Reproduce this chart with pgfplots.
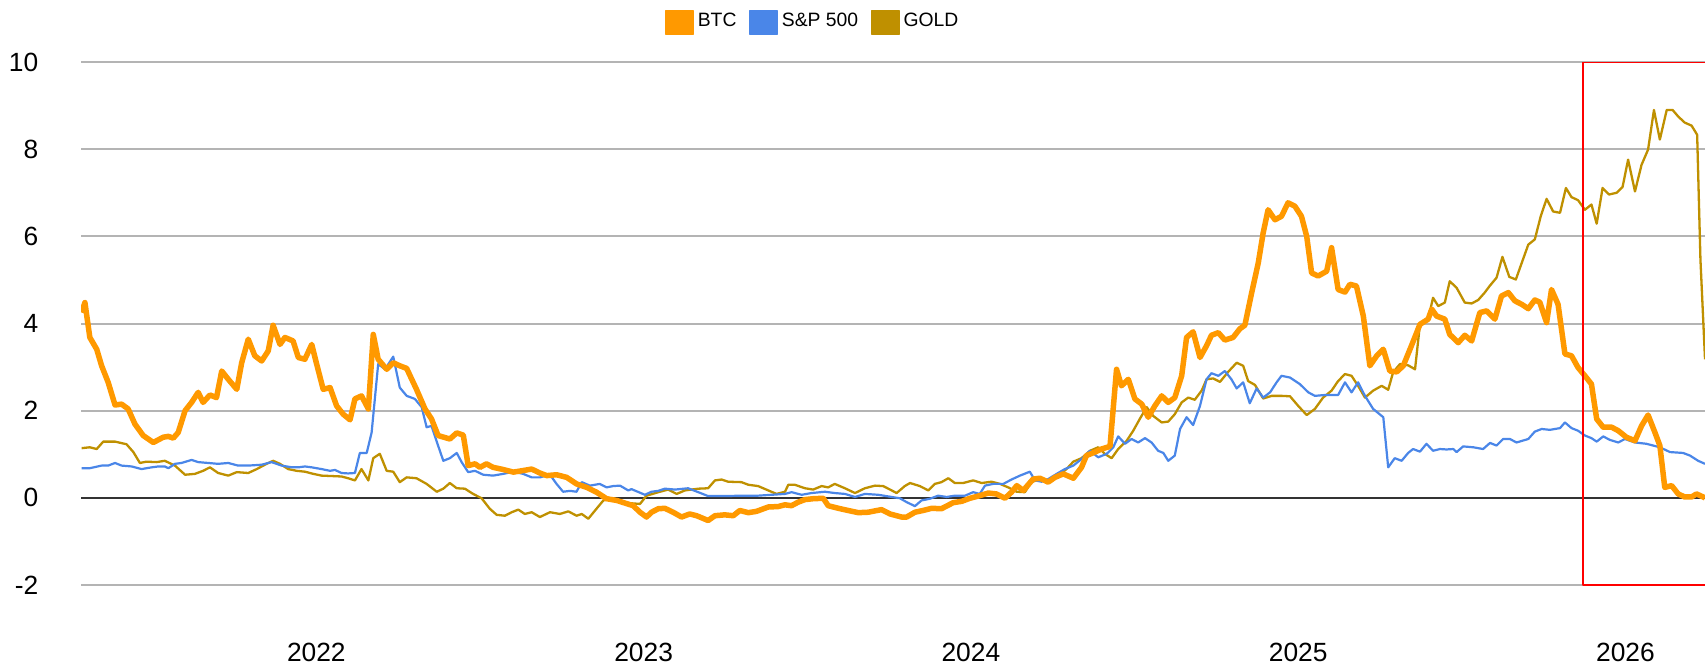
\documentclass[border=0pt]{standalone}
\usepackage{pgfplots}
\pgfplotsset{compat=1.18}
\usepackage{fontspec}
\setmainfont{Liberation Sans}
\definecolor{btc}{HTML}{FF9900}
\definecolor{spx}{HTML}{4A86E8}
\definecolor{gold}{HTML}{BF9000}
\definecolor{gridc}{HTML}{B4B4B4}
\begin{document}
\begin{tikzpicture}
\path[use as bounding box] (0,0) rectangle (170.5mm,66.3mm);
\begin{axis}[
  at={(8.1mm,7.8mm)}, anchor=south west,
  scale only axis, width=162.4mm, height=52.3mm,
  xmin=2021.281, xmax=2026.243, ymin=-2, ymax=10,
  axis line style={draw=none},
  major tick length=0pt,
  xtick={2022,2023,2024,2025,2026},
  xticklabels={2022,2023,2024,2025,2026},
  ytick={-2,0,2,4,6,8,10},
  yticklabels={-2,0,2,4,6,8,10},
  ymajorgrids,
  grid style={gridc, line width=0.2mm},
  tick label style={font=\fontsize{7.5}{9}\selectfont},
  xticklabel style={anchor=center, yshift=-6.7mm},
  yticklabel style={anchor=east, inner sep=0pt, xshift=-4.2mm},
  legend style={at={(0.4513,1.075)}, anchor=center, draw=none, fill=none,
    legend columns=3, font=\fontsize{5.5}{6.6}\selectfont,
    /tikz/every even column/.append style={column sep=0.9mm},
    nodes={inner sep=0.4mm}},
  legend image code/.code={\fill[#1] (0mm,-1.2mm) rectangle (2.7mm,1.2mm);},
  line join=round,
]
\addlegendimage{btc}
\addlegendentry{BTC}
\addlegendimage{spx}
\addlegendentry{S\&P 500}
\addlegendimage{gold}
\addlegendentry{GOLD}

\draw[color=black!80, line width=0.2mm] (2021.281,0) -- (2026.243,0);

\addplot[gold, line width=0.23mm, no markers, forget plot] coordinates {
(2021.283,1.14)(2021.308,1.16)(2021.329,1.12)(2021.349,1.29)(2021.385,1.29)(2021.420,1.23)(2021.441,1.05)(2021.461,0.80)(2021.481,0.83)(2021.512,0.82)(2021.537,0.85)(2021.568,0.74)(2021.599,0.53)(2021.629,0.55)(2021.654,0.62)(2021.675,0.70)(2021.700,0.57)(2021.731,0.51)(2021.757,0.59)(2021.792,0.57)(2021.818,0.66)(2021.848,0.78)(2021.868,0.85)(2021.889,0.78)(2021.914,0.66)(2021.940,0.62)(2021.965,0.60)(2021.991,0.55)(2022.016,0.51)(2022.047,0.50)(2022.077,0.49)(2022.097,0.45)(2022.118,0.40)(2022.138,0.66)(2022.159,0.40)(2022.174,0.91)(2022.194,1.01)(2022.215,0.62)(2022.235,0.60)(2022.255,0.36)(2022.276,0.47)(2022.306,0.45)(2022.337,0.32)(2022.368,0.14)(2022.388,0.21)(2022.408,0.34)(2022.429,0.22)(2022.454,0.21)(2022.479,0.09)(2022.505,-0.01)(2022.530,-0.25)(2022.551,-0.39)(2022.576,-0.41)(2022.597,-0.33)(2022.617,-0.27)(2022.637,-0.37)(2022.658,-0.33)(2022.683,-0.44)(2022.714,-0.33)(2022.744,-0.37)(2022.770,-0.31)(2022.795,-0.41)(2022.811,-0.37)(2022.831,-0.48)(2022.856,-0.25)(2022.877,-0.06)(2022.907,-0.01)(2022.928,-0.10)(2022.953,-0.12)(2022.989,-0.14)(2023.009,0.05)(2023.045,0.13)(2023.075,0.19)(2023.101,0.09)(2023.126,0.17)(2023.167,0.21)(2023.197,0.22)(2023.218,0.40)(2023.238,0.42)(2023.258,0.37)(2023.299,0.36)(2023.320,0.30)(2023.350,0.27)(2023.381,0.17)(2023.406,0.09)(2023.432,0.14)(2023.442,0.30)(2023.462,0.30)(2023.493,0.22)(2023.518,0.19)(2023.544,0.27)(2023.564,0.24)(2023.584,0.32)(2023.615,0.22)(2023.646,0.11)(2023.676,0.22)(2023.707,0.28)(2023.732,0.27)(2023.758,0.17)(2023.773,0.11)(2023.798,0.27)(2023.814,0.34)(2023.844,0.27)(2023.870,0.17)(2023.890,0.32)(2023.910,0.36)(2023.931,0.45)(2023.951,0.34)(2023.976,0.34)(2024.007,0.40)(2024.033,0.34)(2024.063,0.37)(2024.089,0.32)(2024.114,0.24)(2024.140,0.14)(2024.165,0.13)(2024.185,0.36)(2024.211,0.43)(2024.241,0.40)(2024.267,0.51)(2024.292,0.66)(2024.313,0.83)(2024.338,0.91)(2024.364,1.08)(2024.389,1.16)(2024.409,1.01)(2024.430,0.91)(2024.450,1.12)(2024.476,1.31)(2024.496,1.54)(2024.516,1.81)(2024.537,2.08)(2024.557,1.88)(2024.583,1.73)(2024.603,1.75)(2024.623,1.92)(2024.644,2.19)(2024.664,2.30)(2024.684,2.25)(2024.705,2.46)(2024.720,2.72)(2024.740,2.74)(2024.761,2.66)(2024.786,2.89)(2024.812,3.10)(2024.832,3.03)(2024.847,2.68)(2024.868,2.59)(2024.893,2.28)(2024.919,2.34)(2024.949,2.34)(2024.975,2.33)(2025.000,2.11)(2025.026,1.90)(2025.051,2.04)(2025.076,2.30)(2025.102,2.46)(2025.122,2.68)(2025.143,2.84)(2025.163,2.80)(2025.183,2.57)(2025.204,2.30)(2025.229,2.46)(2025.255,2.57)(2025.275,2.48)(2025.290,2.88)(2025.311,3.07)(2025.336,3.04)(2025.357,2.95)(2025.372,3.98)(2025.397,4.10)(2025.412,4.59)(2025.428,4.40)(2025.448,4.48)(2025.463,4.97)(2025.484,4.82)(2025.509,4.48)(2025.530,4.46)(2025.550,4.54)(2025.570,4.71)(2025.586,4.87)(2025.606,5.05)(2025.624,5.53)(2025.645,5.07)(2025.665,5.01)(2025.683,5.39)(2025.703,5.81)(2025.723,5.93)(2025.741,6.46)(2025.759,6.86)(2025.779,6.57)(2025.800,6.54)(2025.818,7.11)(2025.835,6.90)(2025.855,6.83)(2025.876,6.61)(2025.896,6.73)(2025.912,6.29)(2025.930,7.11)(2025.950,6.96)(2025.973,7.00)(2025.991,7.13)(2026.008,7.76)(2026.029,7.03)(2026.049,7.64)(2026.069,7.99)(2026.087,8.90)(2026.105,8.22)(2026.126,8.90)(2026.144,8.90)(2026.161,8.75)(2026.181,8.61)(2026.202,8.54)(2026.219,8.33)(2026.229,5.47)(2026.243,3.18)
};

\addplot[spx, line width=0.22mm, no markers, forget plot] coordinates {
(2021.283,0.68)(2021.308,0.68)(2021.344,0.74)(2021.364,0.74)(2021.385,0.80)(2021.405,0.74)(2021.436,0.72)(2021.466,0.66)(2021.497,0.70)(2021.517,0.72)(2021.537,0.72)(2021.548,0.68)(2021.568,0.78)(2021.588,0.80)(2021.619,0.87)(2021.639,0.82)(2021.670,0.80)(2021.700,0.78)(2021.731,0.80)(2021.761,0.74)(2021.792,0.74)(2021.833,0.76)(2021.863,0.82)(2021.894,0.74)(2021.925,0.70)(2021.945,0.70)(2021.965,0.72)(2021.986,0.70)(2022.016,0.66)(2022.042,0.62)(2022.057,0.64)(2022.077,0.57)(2022.097,0.56)(2022.118,0.57)(2022.133,1.03)(2022.154,1.03)(2022.169,1.50)(2022.189,3.07)(2022.210,2.95)(2022.235,3.24)(2022.255,2.53)(2022.276,2.34)(2022.301,2.27)(2022.322,2.08)(2022.337,1.62)(2022.352,1.65)(2022.372,1.20)(2022.388,0.85)(2022.408,0.91)(2022.429,1.03)(2022.444,0.82)(2022.464,0.59)(2022.485,0.62)(2022.510,0.53)(2022.540,0.51)(2022.571,0.55)(2022.602,0.60)(2022.632,0.55)(2022.658,0.47)(2022.683,0.47)(2022.714,0.53)(2022.734,0.32)(2022.754,0.14)(2022.775,0.16)(2022.795,0.14)(2022.811,0.36)(2022.836,0.28)(2022.866,0.32)(2022.887,0.24)(2022.907,0.27)(2022.928,0.28)(2022.953,0.17)(2022.963,0.20)(2023.004,0.07)(2023.024,0.14)(2023.045,0.16)(2023.065,0.21)(2023.096,0.19)(2023.136,0.22)(2023.167,0.13)(2023.197,0.04)(2023.248,0.04)(2023.299,0.05)(2023.350,0.05)(2023.391,0.07)(2023.432,0.09)(2023.452,0.13)(2023.483,0.07)(2023.513,0.11)(2023.554,0.14)(2023.584,0.11)(2023.615,0.09)(2023.646,0.02)(2023.676,0.09)(2023.717,0.07)(2023.758,0.02)(2023.783,-0.01)(2023.804,-0.10)(2023.829,-0.19)(2023.849,-0.06)(2023.875,-0.02)(2023.900,0.05)(2023.926,0.02)(2023.951,0.05)(2023.982,0.05)(2024.007,0.13)(2024.027,0.09)(2024.043,0.28)(2024.068,0.32)(2024.099,0.32)(2024.124,0.42)(2024.150,0.51)(2024.180,0.60)(2024.196,0.40)(2024.216,0.37)(2024.236,0.43)(2024.262,0.55)(2024.287,0.66)(2024.313,0.74)(2024.338,0.89)(2024.364,1.08)(2024.389,0.93)(2024.415,1.01)(2024.435,1.16)(2024.450,1.41)(2024.471,1.24)(2024.491,1.35)(2024.511,1.27)(2024.532,1.37)(2024.552,1.27)(2024.572,1.08)(2024.588,1.03)(2024.603,0.85)(2024.623,0.97)(2024.639,1.58)(2024.659,1.85)(2024.679,1.67)(2024.700,2.11)(2024.720,2.72)(2024.735,2.86)(2024.756,2.80)(2024.776,2.91)(2024.796,2.72)(2024.812,2.51)(2024.832,2.65)(2024.852,2.17)(2024.873,2.51)(2024.893,2.30)(2024.914,2.42)(2024.934,2.65)(2024.949,2.80)(2024.975,2.76)(2025.005,2.61)(2025.031,2.42)(2025.051,2.34)(2025.082,2.36)(2025.122,2.36)(2025.143,2.65)(2025.163,2.42)(2025.183,2.65)(2025.204,2.34)(2025.229,2.04)(2025.260,1.85)(2025.275,0.70)(2025.295,0.91)(2025.316,0.85)(2025.336,1.03)(2025.351,1.12)(2025.372,1.06)(2025.392,1.24)(2025.412,1.08)(2025.433,1.12)(2025.453,1.11)(2025.474,1.12)(2025.484,1.05)(2025.504,1.18)(2025.535,1.16)(2025.565,1.12)(2025.586,1.26)(2025.606,1.20)(2025.626,1.35)(2025.647,1.35)(2025.667,1.27)(2025.703,1.35)(2025.723,1.52)(2025.744,1.58)(2025.769,1.56)(2025.800,1.60)(2025.815,1.73)(2025.835,1.60)(2025.855,1.54)(2025.876,1.43)(2025.896,1.37)(2025.912,1.29)(2025.932,1.41)(2025.952,1.33)(2025.978,1.27)(2025.998,1.35)(2026.029,1.27)(2026.064,1.24)(2026.105,1.16)(2026.136,1.05)(2026.176,1.03)(2026.197,0.97)(2026.222,0.85)(2026.243,0.78)
};

\addplot[btc, line width=0.55mm, no markers, forget plot] coordinates {
(2021.283,4.25)(2021.293,4.48)(2021.308,3.68)(2021.329,3.41)(2021.344,3.03)(2021.364,2.65)(2021.385,2.13)(2021.405,2.15)(2021.425,2.04)(2021.446,1.69)(2021.471,1.43)(2021.502,1.27)(2021.532,1.39)(2021.548,1.41)(2021.563,1.37)(2021.578,1.50)(2021.599,2.00)(2021.619,2.19)(2021.639,2.42)(2021.654,2.19)(2021.675,2.36)(2021.695,2.30)(2021.711,2.91)(2021.731,2.72)(2021.757,2.49)(2021.772,3.10)(2021.792,3.64)(2021.812,3.26)(2021.833,3.14)(2021.853,3.37)(2021.868,3.96)(2021.889,3.52)(2021.904,3.68)(2021.929,3.60)(2021.945,3.22)(2021.965,3.18)(2021.986,3.52)(2022.001,3.07)(2022.021,2.49)(2022.042,2.53)(2022.062,2.11)(2022.082,1.92)(2022.103,1.79)(2022.118,2.27)(2022.138,2.34)(2022.159,2.04)(2022.174,3.75)(2022.189,3.18)(2022.215,2.95)(2022.235,3.10)(2022.255,3.03)(2022.276,2.97)(2022.306,2.49)(2022.332,2.04)(2022.352,1.81)(2022.372,1.43)(2022.408,1.35)(2022.429,1.49)(2022.449,1.44)(2022.464,0.74)(2022.485,0.78)(2022.500,0.70)(2022.520,0.78)(2022.540,0.70)(2022.571,0.65)(2022.602,0.59)(2022.627,0.62)(2022.658,0.66)(2022.683,0.57)(2022.704,0.51)(2022.734,0.53)(2022.765,0.47)(2022.795,0.32)(2022.826,0.24)(2022.856,0.13)(2022.887,-0.02)(2022.918,-0.06)(2022.943,-0.12)(2022.968,-0.18)(2022.989,-0.33)(2023.009,-0.44)(2023.024,-0.33)(2023.045,-0.25)(2023.065,-0.24)(2023.090,-0.33)(2023.116,-0.44)(2023.141,-0.37)(2023.162,-0.41)(2023.197,-0.52)(2023.218,-0.41)(2023.248,-0.39)(2023.274,-0.41)(2023.294,-0.29)(2023.320,-0.34)(2023.345,-0.31)(2023.381,-0.21)(2023.411,-0.20)(2023.432,-0.16)(2023.452,-0.18)(2023.472,-0.10)(2023.493,-0.04)(2023.518,-0.02)(2023.549,-0.01)(2023.564,-0.18)(2023.595,-0.24)(2023.625,-0.29)(2023.656,-0.34)(2023.686,-0.33)(2023.727,-0.27)(2023.753,-0.37)(2023.788,-0.44)(2023.804,-0.44)(2023.829,-0.33)(2023.854,-0.29)(2023.880,-0.24)(2023.910,-0.25)(2023.946,-0.11)(2023.972,-0.08)(2023.997,-0.01)(2024.027,0.05)(2024.053,0.11)(2024.078,0.09)(2024.104,-0.01)(2024.124,0.13)(2024.140,0.28)(2024.160,0.17)(2024.190,0.43)(2024.211,0.45)(2024.236,0.36)(2024.257,0.47)(2024.282,0.55)(2024.313,0.45)(2024.338,0.70)(2024.353,0.97)(2024.379,1.05)(2024.399,1.12)(2024.425,1.18)(2024.445,2.95)(2024.460,2.57)(2024.481,2.72)(2024.501,2.27)(2024.522,2.15)(2024.542,1.85)(2024.562,2.11)(2024.583,2.34)(2024.603,2.19)(2024.623,2.30)(2024.644,2.80)(2024.659,3.68)(2024.679,3.81)(2024.700,3.22)(2024.720,3.49)(2024.735,3.73)(2024.756,3.79)(2024.776,3.62)(2024.801,3.68)(2024.822,3.88)(2024.837,3.96)(2024.858,4.71)(2024.878,5.39)(2024.893,6.08)(2024.908,6.61)(2024.929,6.38)(2024.949,6.46)(2024.969,6.77)(2024.990,6.69)(2025.010,6.46)(2025.026,6.00)(2025.041,5.16)(2025.061,5.09)(2025.087,5.20)(2025.102,5.74)(2025.122,4.78)(2025.143,4.72)(2025.158,4.90)(2025.178,4.86)(2025.199,4.17)(2025.219,3.03)(2025.240,3.26)(2025.260,3.41)(2025.280,2.91)(2025.301,2.89)(2025.321,3.03)(2025.346,3.49)(2025.372,3.98)(2025.397,4.10)(2025.408,4.33)(2025.423,4.17)(2025.448,4.10)(2025.463,3.75)(2025.489,3.56)(2025.509,3.73)(2025.530,3.60)(2025.555,4.25)(2025.576,4.29)(2025.601,4.10)(2025.621,4.63)(2025.642,4.71)(2025.662,4.52)(2025.683,4.44)(2025.703,4.34)(2025.723,4.54)(2025.738,4.49)(2025.759,4.02)(2025.774,4.78)(2025.794,4.44)(2025.815,3.30)(2025.835,3.26)(2025.855,2.99)(2025.876,2.80)(2025.896,2.61)(2025.912,1.81)(2025.932,1.62)(2025.958,1.62)(2025.978,1.54)(2026.003,1.39)(2026.029,1.31)(2026.049,1.65)(2026.069,1.90)(2026.090,1.50)(2026.105,1.20)(2026.120,0.24)(2026.141,0.28)(2026.161,0.09)(2026.181,0.02)(2026.202,0.02)(2026.217,0.09)(2026.243,0.00)
};

\draw[red, line width=0.2mm] (2025.8705,-2) rectangle (2026.40,10);
\end{axis}
\end{tikzpicture}
\end{document}
